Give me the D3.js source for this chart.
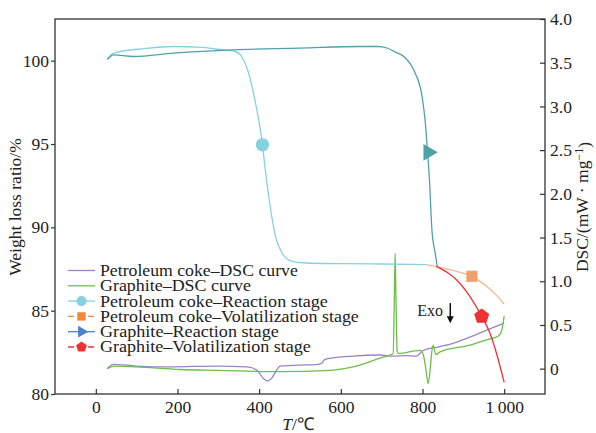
<!DOCTYPE html>
<html>
<head>
<meta charset="utf-8">
<script src="https://cdn.jsdelivr.net/npm/d3@7"></script>
<style>
  body { margin: 0; background: #fff; }
  text { font-family: "Liberation Serif", "Times New Roman", serif; fill: #222; }
</style>
</head>
<body>
<div id="chart"></div>
<script>
// Weight loss curves (left axis), [T, %]
var pcReaction = [[28,100.06],[40,100.4],[60,100.55],[109,100.7],[190,100.85],[260,100.8],[293,100.7],[341,100.55],[357,100.25],[374,99.26],[391,97.46],[403,95.85],[408,94.95],[415,93.46],[427,91.25],[440,89.45],[456,88.46],[480,87.96],[513,87.86],[600,87.82],[700,87.8],[810,87.76]];
var pcVolatil = [[810,87.76],[838,87.62],[883,87.36],[921,87.06],[957,86.46],[980,85.95],[1000,85.4]];
var gReaction = [[28,100.06],[43,100.35],[92,100.25],[190,100.45],[337,100.65],[500,100.75],[648,100.85],[690,100.85],[713,100.76],[735,100.5],[754,100.25],[782,99.26],[799,97.85],[807,96.26],[811,95.0],[817,92.86],[823,89.86],[831,88.46],[836,87.66]];
var gVolatil = [[834,87.66],[860,87.3],[883,86.86],[916,85.86],[945,84.66],[965,83.66],[981,82.46],[1000,80.7]];

// DSC curves (right axis), [T, mW/mg]
var pcDsc = [[28,0.0],[42,0.05],[100,0.03],[175,0.02],[300,0.03],[370,0.02],[395,-0.02],[410,-0.11],[420,-0.14],[432,-0.10],[445,0.0],[451,0.03],[500,0.04],[545,0.05],[553,0.06],[561,0.106],[630,0.144],[696,0.156],[728,0.144],[760,0.15],[785,0.144],[802,0.21],[840,0.25],[875,0.29],[916,0.36],[957,0.44],[1000,0.52]];
var gDsc = [[28,0.0],[45,0.03],[100,0.02],[207,-0.01],[300,-0.02],[451,-0.035],[574,-0.02],[630,0.02],[696,0.12],[720,0.156],[728,0.17],[731,0.8],[733,1.32],[735,0.8],[738,0.2],[741,0.175],[794,0.21],[802,0.16],[808,0.0],[814,-0.17],[819,0.0],[822,0.16],[826,0.27],[830,0.2],[833,0.16],[842,0.19],[916,0.27],[957,0.33],[985,0.37],[993,0.42],[1000,0.60]];

// Stage markers
var pcReactionMark = [408, 94.95];
var pcVolatilMark = [921, 87.06];
var gReactionMark = [814, 94.5];
var gVolatilMark = [945, 84.66];

// Ticks
var xTicks = [0, 200, 400, 600, 800, 1000];
var yLeftTicks = [80, 85, 90, 95, 100];
var yRightTicks = [0, 0.5, 1.0, 1.5, 2.0, 2.5, 3.0, 3.5, 4.0];

var legendLabels = ["Petroleum coke\u2013DSC curve", "Graphite\u2013DSC curve", "Petroleum coke\u2013Reaction stage",
                    "Petroleum coke\u2013Volatilization stage", "Graphite\u2013Reaction stage", "Graphite\u2013Volatilization stage"];

var colors = {
  purple: "#9a84c8", green: "#6cbf48", lightBlue: "#86d2e2", teal: "#4da2a8",
  orange: "#f4b58f", orangeMark: "#f0a06c", red: "#ec3232", legendBlue: "#4b80c6", legendOrange: "#f08838"
};

var margin = {top: 19, right: 51, bottom: 39, left: 55},
    width = 596 - margin.left - margin.right,
    height = 433 - margin.top - margin.bottom;

var svg = d3.select("#chart").append("svg")
    .attr("width", 596)
    .attr("height", 433)
    .append("g")
    .attr("transform", "translate(" + margin.left + "," + margin.top + ")");

var x = d3.scaleLinear().domain([-100, 1100]).range([0, width]);
var yL = d3.scaleLinear().domain([80, 102.5]).range([height, 0]);
var yR = d3.scaleLinear().domain([-0.29, 4.0]).range([height, 0]);

// pentagon symbol
var symbolPentagon = {
  draw: function(context, size) {
    var r = Math.sqrt(size / 2.378);
    for (var i = 0; i < 5; i++) {
      var a = -Math.PI / 2 + i * 2 * Math.PI / 5;
      if (i === 0) context.moveTo(r * Math.cos(a), r * Math.sin(a));
      else context.lineTo(r * Math.cos(a), r * Math.sin(a));
    }
    context.closePath();
  }
};

// Axes
var fmtX = function(d) { return d === 1000 ? "1\u2009000" : d; };
var fmtR = function(d) { return d === 0 ? "0" : d3.format(".1f")(d); };

var gx = svg.append("g")
    .attr("transform", "translate(0," + height + ")")
    .call(d3.axisBottom(x).tickValues(xTicks).tickSize(-5).tickPadding(7).tickFormat(fmtX));
var gl = svg.append("g")
    .call(d3.axisLeft(yL).tickValues(yLeftTicks).tickSize(4).tickPadding(2));
var gr = svg.append("g")
    .attr("transform", "translate(" + width + ",0)")
    .call(d3.axisRight(yR).tickValues(yRightTicks).tickSize(-5).tickPadding(5).tickFormat(fmtR));

[gx, gl, gr].forEach(function(g) {
  g.select(".domain").remove();
  g.selectAll(".tick line").attr("stroke", "#333").attr("stroke-width", 1.2);
  g.selectAll(".tick text").style("font-family", "Liberation Serif").style("font-size", "17.5px").attr("fill", "#222");
});

// Frame
svg.append("rect")
    .attr("width", width).attr("height", height)
    .attr("fill", "none").attr("stroke", "#333").attr("stroke-width", 1.3);

// Lines
var lineL = d3.line().x(function(d) { return x(d[0]); }).y(function(d) { return yL(d[1]); }).curve(d3.curveMonotoneX);
var lineR = d3.line().x(function(d) { return x(d[0]); }).y(function(d) { return yR(d[1]); }).curve(d3.curveMonotoneX);

function drawLine(data, line, color) {
  svg.append("path").datum(data)
      .attr("fill", "none").attr("stroke", color).attr("stroke-width", 1.3)
      .attr("d", line);
}

drawLine(pcDsc, lineR, colors.purple);
drawLine(gDsc, lineR, colors.green);
drawLine(pcReaction, lineL, colors.lightBlue);
drawLine(gReaction, lineL, colors.teal);
drawLine(pcVolatil, lineL, colors.orange);
drawLine(gVolatil, lineL, colors.red);

// Markers
function drawMark(p, type, size, color, rotate) {
  svg.append("path")
      .attr("d", d3.symbol().type(type).size(size)())
      .attr("fill", color)
      .attr("transform", "translate(" + x(p[0]) + "," + yL(p[1]) + ")" + (rotate ? " rotate(" + rotate + ")" : ""));
}
drawMark(pcReactionMark, d3.symbolCircle, 140, colors.lightBlue);
drawMark(pcVolatilMark, d3.symbolSquare, 125, colors.orangeMark);
drawMark(gReactionMark, d3.symbolTriangle, 120, colors.teal, 90);
drawMark(gVolatilMark, symbolPentagon, 150, colors.red);

// Exo annotation
svg.append("text")
    .attr("x", x(787)).attr("y", yR(0.6))
    .style("font-size", "16px")
    .text("Exo");
var ax = x(868);
svg.append("line")
    .attr("x1", ax).attr("x2", ax).attr("y1", yR(0.75)).attr("y2", yR(0.58))
    .attr("stroke", "#111").attr("stroke-width", 1.5);
svg.append("path")
    .attr("d", "M" + (ax - 3.5) + "," + yR(0.6) + "L" + (ax + 3.5) + "," + yR(0.6) + "L" + ax + "," + yR(0.52) + "Z")
    .attr("fill", "#111");

// Legend
var legendSymbols = [
  {color: colors.purple, type: null, w: 198},
  {color: colors.green, type: null, w: 151},
  {color: colors.lightBlue, type: d3.symbolCircle, size: 80, w: 228},
  {color: colors.legendOrange, type: d3.symbolSquare, size: 70, dashed: true, w: 259},
  {color: colors.legendBlue, type: d3.symbolTriangle, size: 60, rotate: 90, w: 179},
  {color: colors.red, type: symbolPentagon, size: 75, dashed: true, w: 211}
];

var legend = svg.append("g").attr("transform", "translate(" + (68 - margin.left) + "," + (270.5 - margin.top) + ")");
legendLabels.forEach(function(label, i) {
  var s = legendSymbols[i];
  var row = legend.append("g").attr("transform", "translate(0," + (i * 15.3) + ")");
  row.append("line")
      .attr("x1", 0).attr("x2", 27)
      .attr("stroke", s.color).attr("stroke-width", 1.3)
      .attr("stroke-dasharray", s.dashed ? "6,4" : null);
  if (s.type) {
    row.append("path")
        .attr("d", d3.symbol().type(s.type).size(s.size)())
        .attr("fill", s.color)
        .attr("transform", "translate(13.5,0)" + (s.rotate ? " rotate(" + s.rotate + ")" : ""));
  }
  var t = row.append("text")
      .attr("dy", "0.33em")
      .style("font-size", "16.5px")
      .text(label);
  // stretch to the width the label has in the original figure
  var natural = t.node().getComputedTextLength();
  t.attr("transform", "translate(32,0) scale(" + (s.w / natural) + ",1)");
});

// X axis label
var xt = svg.append("text")
    .attr("x", 298 - margin.left)
    .attr("y", 430 - margin.top)
    .style("text-anchor", "middle")
    .style("font-size", "17.5px");
xt.append("tspan").style("font-style", "italic").text("T");
xt.append("tspan").text("/\u2103");

// Left Y axis label
svg.append("text")
    .attr("transform", "rotate(-90)")
    .attr("y", 21 - margin.left)
    .attr("x", -(207 - margin.top))
    .style("text-anchor", "middle")
    .style("font-size", "17.5px")
    .text("Weight loss ratio/%");

// Right Y axis label
var rt = svg.append("text")
    .attr("transform", "translate(" + (588 - margin.left) + "," + (207 - margin.top) + ") rotate(-90)")
    .style("text-anchor", "middle")
    .style("font-size", "17.5px");
rt.append("tspan").text("DSC/(mW \u00b7 mg");
rt.append("tspan").attr("dy", "-0.45em").style("font-size", "12px").text("\u22121");
rt.append("tspan").attr("dy", "0.45em").text(")");
</script>
</body>
</html>
